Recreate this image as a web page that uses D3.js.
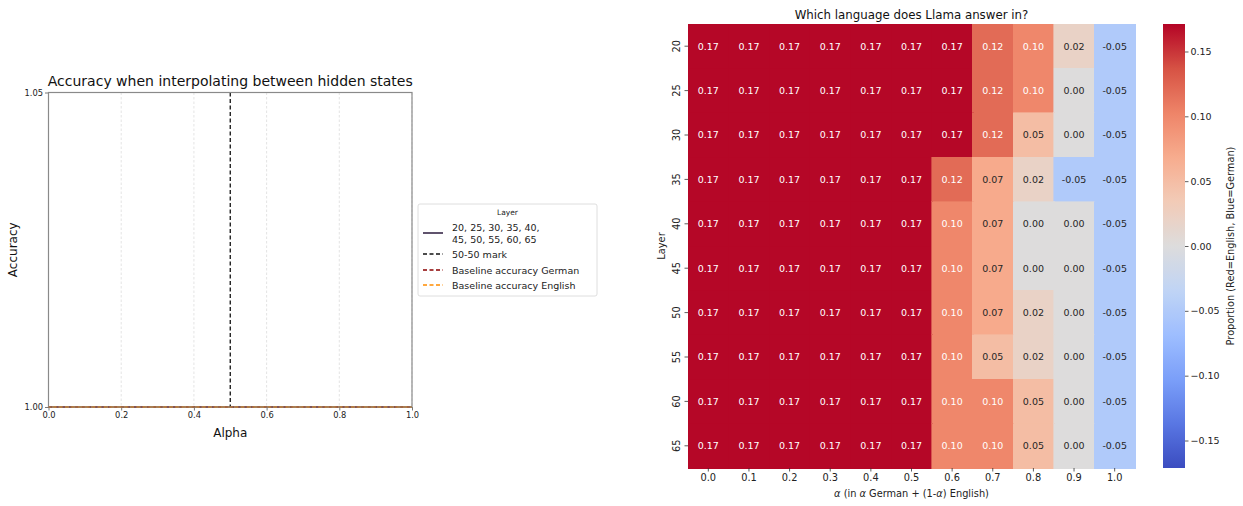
<!DOCTYPE html>
<html><head><meta charset="utf-8">
<script src="https://cdn.jsdelivr.net/npm/d3@7"></script>
<style>body{margin:0;background:#fff;}svg{display:block;font-family:"DejaVu Sans",sans-serif;}</style>
</head><body>
<svg id="chart" width="1243" height="506"></svg>
<script>
// ---------- data ----------
const alphas = [0.0,0.1,0.2,0.3,0.4,0.5,0.6,0.7,0.8,0.9,1.0];
const layers = [20,25,30,35,40,45,50,55,60,65];
// accuracy per layer for every alpha (all lines sit at 1.0)
const layerAccuracy = [
  [1,1,1,1,1,1,1,1,1,1,1],[1,1,1,1,1,1,1,1,1,1,1],[1,1,1,1,1,1,1,1,1,1,1],
  [1,1,1,1,1,1,1,1,1,1,1],[1,1,1,1,1,1,1,1,1,1,1],[1,1,1,1,1,1,1,1,1,1,1],
  [1,1,1,1,1,1,1,1,1,1,1],[1,1,1,1,1,1,1,1,1,1,1],[1,1,1,1,1,1,1,1,1,1,1],
  [1,1,1,1,1,1,1,1,1,1,1]
];
const baselineGerman = 1.0;
const baselineEnglish = 1.0;
const fiftyMark = 0.5;
const leftXTicks = [0.0,0.2,0.4,0.6,0.8,1.0];
const leftYTicks = [1.00,1.05];
const legendLabels = ["20, 25, 30, 35, 40,|45, 50, 55, 60, 65","50-50 mark","Baseline accuracy German","Baseline accuracy English"];
// heatmap: rows = layers, columns = alphas
const proportion = [
  [0.17,0.17,0.17,0.17,0.17,0.17,0.17,0.12,0.10,0.02,-0.05],
  [0.17,0.17,0.17,0.17,0.17,0.17,0.17,0.12,0.10,0.00,-0.05],
  [0.17,0.17,0.17,0.17,0.17,0.17,0.17,0.12,0.05,0.00,-0.05],
  [0.17,0.17,0.17,0.17,0.17,0.17,0.12,0.07,0.02,-0.05,-0.05],
  [0.17,0.17,0.17,0.17,0.17,0.17,0.10,0.07,0.00,0.00,-0.05],
  [0.17,0.17,0.17,0.17,0.17,0.17,0.10,0.07,0.00,0.00,-0.05],
  [0.17,0.17,0.17,0.17,0.17,0.17,0.10,0.07,0.02,0.00,-0.05],
  [0.17,0.17,0.17,0.17,0.17,0.17,0.10,0.05,0.02,0.00,-0.05],
  [0.17,0.17,0.17,0.17,0.17,0.17,0.10,0.10,0.05,0.00,-0.05],
  [0.17,0.17,0.17,0.17,0.17,0.17,0.10,0.10,0.05,0.00,-0.05]
];
const colorbarTicks = [-0.15,-0.10,-0.05,0.00,0.05,0.10,0.15];
const colorLimit = 0.1712;

// ---------- setup ----------
const svg = d3.select("#chart");
const fmtMinus = s => s.replace("-", "\u2212");

// ================= LEFT PANEL =================
const L = {left:48.5, right:412, top:92.5, bottom:407};
const x = d3.scaleLinear().domain([0,1]).range([L.left, L.right]);
const y = d3.scaleLinear().domain([1.00,1.05]).range([L.bottom, L.top]);
const gL = svg.append("g");

gL.selectAll(".grid").data(leftXTicks).join("line")
  .attr("x1", d=>x(d)).attr("x2", d=>x(d)).attr("y1", L.top).attr("y2", L.bottom)
  .attr("stroke", "#d9d9d9").attr("stroke-width", 0.7).attr("stroke-dasharray", "2.5,2");

const lineGen = d3.line().x((d,i)=>x(alphas[i])).y(d=>y(d));
gL.selectAll(".layerLine").data(layerAccuracy).join("path")
  .attr("d", lineGen).attr("fill","none").attr("stroke","#2b1a3d").attr("stroke-width",1.3);
gL.append("line").attr("x1",x(0)).attr("x2",x(1)).attr("y1",y(baselineGerman)).attr("y2",y(baselineGerman))
  .attr("stroke","#8b0000").attr("stroke-width",1.3).attr("stroke-dasharray","4,2.5");
gL.append("line").attr("x1",x(0)).attr("x2",x(1)).attr("y1",y(baselineEnglish)).attr("y2",y(baselineEnglish))
  .attr("stroke","#ff8c00").attr("stroke-width",1.3).attr("stroke-dasharray","4,2.5").attr("stroke-dashoffset",3);
gL.append("line").attr("x1",x(fiftyMark)).attr("x2",x(fiftyMark)).attr("y1",y(1.05)).attr("y2",y(1.00))
  .attr("stroke","#111").attr("stroke-width",1.3).attr("stroke-dasharray","4,2.5");

const xAxisL = d3.axisBottom(x).tickValues(leftXTicks).tickFormat(d3.format(".1f")).tickSize(3.5).tickPadding(2);
const yAxisL = d3.axisLeft(y).tickValues(leftYTicks).tickFormat(d3.format(".2f")).tickSize(3.5).tickPadding(2);
const gx = gL.append("g").attr("transform",`translate(0,${L.bottom})`).call(xAxisL);
const gy = gL.append("g").attr("transform",`translate(${L.left},0)`).call(yAxisL);
[gx,gy].forEach(g=>{
  g.select(".domain").remove();
  g.selectAll("line").attr("stroke","#555").attr("stroke-width",0.8);
  g.selectAll("text").attr("font-size",8.3).attr("fill","#222").attr("font-family","DejaVu Sans");
});
gL.append("rect").attr("x",L.left).attr("y",L.top).attr("width",L.right-L.left).attr("height",L.bottom-L.top)
  .attr("fill","none").attr("stroke","#8a8a8a").attr("stroke-width",1.2);
gL.append("line").attr("x1",x(0)).attr("x2",x(1)).attr("y1",y(baselineEnglish)).attr("y2",y(baselineEnglish))
  .attr("stroke","#c07a30").attr("stroke-width",1).attr("stroke-dasharray","3,2.5");

gL.append("text").attr("x",(L.left+L.right)/2).attr("y",86).attr("text-anchor","middle")
  .attr("font-size",14).attr("fill","#111").text("Accuracy when interpolating between hidden states");
gL.append("text").attr("x",(L.left+L.right)/2).attr("y",437).attr("text-anchor","middle")
  .attr("font-size",12).attr("fill","#111").text("Alpha");
gL.append("text").attr("transform",`translate(17,${(L.top+L.bottom)/2}) rotate(-90)`).attr("text-anchor","middle")
  .attr("font-size",12).attr("fill","#111").text("Accuracy");

// legend
const lg = svg.append("g").attr("transform","translate(418,204)");
lg.append("rect").attr("x",0).attr("y",0).attr("width",179).attr("height",92).attr("rx",2)
  .attr("fill","#fff").attr("stroke","#d5d5d5").attr("stroke-width",0.8);
lg.append("text").attr("x",89.5).attr("y",11).attr("text-anchor","middle").attr("font-size",7.5).attr("fill","#222").text("Layer");
const legStyles = [
  {c:"#2b1a3d", dash:null, y:29},
  {c:"#111", dash:"4,2.5", y:50},
  {c:"#8b0000", dash:"4,2.5", y:66},
  {c:"#ff8c00", dash:"4,2.5", y:81}
];
legStyles.forEach((s,i)=>{
  lg.append("line").attr("x1",5).attr("x2",25).attr("y1",s.y).attr("y2",s.y)
    .attr("stroke",s.c).attr("stroke-width",1.5).attr("stroke-dasharray",s.dash);
  const parts = legendLabels[i].split("|");
  const t = lg.append("text").attr("font-size",9.5).attr("fill","#222");
  if (parts.length===2){
    t.append("tspan").attr("x",34).attr("y",s.y-2).text(parts[0]);
    t.append("tspan").attr("x",34).attr("y",s.y+10).text(parts[1]);
  } else {
    t.append("tspan").attr("x",34).attr("y",s.y+3.5).text(parts[0]);
  }
});

// ================= HEATMAP =================
const H = {left:688, right:1135, top:24, bottom:468};
const xb = d3.scaleBand().domain(alphas.map((d,i)=>i)).range([H.left,H.right]);
const yb = d3.scaleBand().domain(layers.map((d,i)=>i)).range([H.top,H.bottom]);
const coolwarm = ["#3b4cc0","#5977e3","#7b9ff9","#9ebeff","#c0d4f5","#dddcdc","#f2cbb7","#f7ac8e","#ee8468","#d65244","#b40426"];
const cwScale = d3.scaleLinear().domain(d3.range(11).map(i=>i/10)).range(coolwarm).interpolate(d3.interpolateRgb).clamp(true);
const norm = d3.scaleLinear().domain([-colorLimit,colorLimit]).range([0,1]).clamp(true);
const color = v => cwScale(norm(v));
function lum(c){
  const r=d3.rgb(c);
  const f=v=>{v/=255;return v<=0.03928?v/12.92:Math.pow((v+0.055)/1.055,2.4);};
  return 0.2126*f(r.r)+0.7152*f(r.g)+0.0722*f(r.b);
}
const cells = [];
proportion.forEach((row,r)=>row.forEach((v,c)=>cells.push({r,c,v})));
const gH = svg.append("g");
gH.selectAll("rect.cell").data(cells).join("rect")
  .attr("x",d=>xb(d.c)).attr("y",d=>yb(d.r)).attr("width",xb.bandwidth()+0.6).attr("height",yb.bandwidth()+0.6)
  .attr("shape-rendering","crispEdges")
  .attr("fill",d=>color(d.v)).attr("stroke",d=>color(d.v)).attr("stroke-width",0.6);
gH.selectAll("text.ann").data(cells).join("text")
  .attr("x",d=>xb(d.c)+xb.bandwidth()/2).attr("y",d=>yb(d.r)+yb.bandwidth()/2+3.4)
  .attr("text-anchor","middle").attr("font-size",9.5)
  .attr("fill",d=>lum(color(d.v))>0.408?"#262626":"#ffffff")
  .text(d=>d.v.toFixed(2));

const xbAxis = d3.axisBottom(d3.scaleBand().domain(alphas.map(d=>d.toFixed(1))).range([H.left,H.right])).tickSize(3.5).tickPadding(3);
const ybAxis = d3.axisLeft(d3.scaleBand().domain(layers.map(String)).range([H.top,H.bottom])).tickSize(3.5).tickPadding(3);
const hx = gH.append("g").attr("transform",`translate(0,${H.bottom})`).call(xbAxis);
const hy = gH.append("g").attr("transform",`translate(${H.left},0)`).call(ybAxis);
[hx,hy].forEach(g=>{
  g.select(".domain").remove();
  g.selectAll("line").attr("stroke","#333").attr("stroke-width",0.8);
  g.selectAll("text").attr("font-size",9.8).attr("fill","#222").attr("font-family","DejaVu Sans");
});
hy.selectAll("text").attr("text-anchor","middle").attr("dy",null).attr("x",null)
  .attr("transform","translate(-12,0) rotate(-90)").attr("y",3.5);

gH.append("text").attr("x",(H.left+H.right)/2).attr("y",19).attr("text-anchor","middle")
  .attr("font-size",11.8).attr("fill","#111").text("Which language does Llama answer in?");
const xl = gH.append("text").attr("x",(H.left+H.right)/2).attr("y",497).attr("text-anchor","middle")
  .attr("font-size",9.8).attr("fill","#222");
xl.append("tspan").attr("font-style","italic").text("\u03b1");
xl.append("tspan").text(" (in ");
xl.append("tspan").attr("font-style","italic").text("\u03b1");
xl.append("tspan").text(" German + (1-");
xl.append("tspan").attr("font-style","italic").text("\u03b1");
xl.append("tspan").text(") English)");
gH.append("text").attr("transform",`translate(665,${(H.top+H.bottom)/2}) rotate(-90)`).attr("text-anchor","middle")
  .attr("font-size",9.8).attr("fill","#222").text("Layer");

// ================= COLORBAR =================
const C = {left:1163, right:1185, top:24, bottom:468};
const cy = d3.scaleLinear().domain([-colorLimit,colorLimit]).range([C.bottom,C.top]);
const defs = svg.append("defs");
const grad = defs.append("linearGradient").attr("id","cbgrad").attr("x1",0).attr("x2",0).attr("y1",1).attr("y2",0);
d3.range(0,1.0001,0.02).forEach(t=>{
  grad.append("stop").attr("offset",t).attr("stop-color",cwScale(t));
});
svg.append("rect").attr("x",C.left).attr("y",C.top).attr("width",C.right-C.left).attr("height",C.bottom-C.top)
  .attr("fill","url(#cbgrad)");
const cAxis = d3.axisRight(cy).tickValues(colorbarTicks).tickFormat(d=>fmtMinus(d3.format(".2f")(d))).tickSize(3.5).tickPadding(2);
const gc = svg.append("g").attr("transform",`translate(${C.right},0)`).call(cAxis);
gc.select(".domain").remove();
gc.selectAll("line").attr("stroke","#333").attr("stroke-width",0.8);
gc.selectAll("text").attr("font-size",9.5).attr("fill","#222").attr("font-family","DejaVu Sans");
svg.append("text").attr("transform",`translate(1234,${(C.top+C.bottom)/2}) rotate(-90)`).attr("text-anchor","middle")
  .attr("font-size",9.8).attr("fill","#222").text("Proportion (Red=English, Blue=German)");
</script>
</body></html>
